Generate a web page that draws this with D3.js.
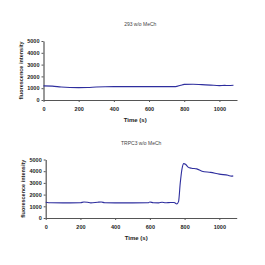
<!DOCTYPE html>
<html>
<head>
<meta charset="utf-8">
<script src="https://cdn.jsdelivr.net/npm/d3@7"></script>
<style>
  body { margin: 0; background: #fff; }
  svg text { font-family: "Liberation Sans", Arial, sans-serif; }
</style>
</head>
<body>
<svg id="chart" width="265" height="265"></svg>
<script>
// data
var timeTicks = [0, 200, 400, 600, 800, 1000];
var intensityTicks = [0, 1000, 2000, 3000, 4000, 5000];

var topTitle = "293 w/o MeCh";
var topTime = [0, 50, 100, 150, 200, 250, 300, 350, 400, 500, 600, 700, 750, 780, 800, 850, 900, 950, 1000, 1030, 1050, 1080];
var topValue = [1200, 1180, 1100, 1060, 1050, 1060, 1100, 1120, 1130, 1130, 1130, 1130, 1130, 1250, 1320, 1340, 1300, 1260, 1220, 1240, 1230, 1250];

var botTitle = "TRPC3 w/o MeCh";
var botTime = [0, 30, 100, 200, 220, 240, 260, 300, 320, 340, 400, 500, 590, 600, 620, 650, 670, 690, 720, 740, 755, 765, 775, 785, 795, 805, 820, 840, 870, 900, 950, 1000, 1050, 1070, 1080];
var botValue = [1350, 1300, 1290, 1300, 1370, 1350, 1290, 1350, 1370, 1300, 1290, 1290, 1300, 1370, 1300, 1290, 1350, 1300, 1330, 1320, 1200, 1400, 3000, 4200, 4650, 4600, 4350, 4250, 4200, 4000, 3900, 3750, 3650, 3580, 3600];

var svg = d3.select("#chart");

function panel(title, times, values, box) {
    var x = d3.scaleLinear().domain([0, 1100]).range([box.left, box.right]);
    var y = d3.scaleLinear().domain([0, 5000]).range([box.bottom, box.top]);
    var g = svg.append("g");

    g.append("text")
        .attr("x", (box.left + box.right) / 2)
        .attr("y", box.top - 15)
        .attr("text-anchor", "middle")
        .attr("font-size", "5px")
        .attr("fill", "#444")
        .text(title);

    var ya = g.append("g")
        .attr("transform", "translate(" + box.left + ",0)")
        .call(d3.axisLeft(y).tickValues(intensityTicks).tickFormat(d3.format("d"))
            .tickSize(2).tickPadding(2).tickSizeOuter(0));
    var xa = g.append("g")
        .attr("transform", "translate(0," + box.bottom + ")")
        .call(d3.axisBottom(x).tickValues(timeTicks).tickFormat(d3.format("d"))
            .tickSize(2).tickPadding(5).tickSizeOuter(0));

    [ya, xa].forEach(function(a) {
        a.select(".domain").attr("stroke", "#555").attr("stroke-width", 1.2);
        a.selectAll(".tick line").attr("stroke", "#555");
        a.selectAll(".tick text")
            .attr("font-size", "5.5px")
            .attr("font-weight", "bold")
            .attr("fill", "#222")
            .style("font-family", "'Liberation Sans', Arial, sans-serif");
    });

    g.append("text")
        .attr("x", (box.left + box.right) / 2 - 5)
        .attr("y", box.bottom + 22)
        .attr("text-anchor", "middle")
        .attr("font-size", "6px")
        .attr("font-weight", "bold")
        .attr("fill", "#222")
        .text("Time (s)");

    g.append("text")
        .attr("transform", "translate(" + (box.left - 21) + "," + ((box.top + box.bottom) / 2) + ") rotate(-90)")
        .attr("text-anchor", "middle")
        .attr("font-size", "5.5px")
        .attr("font-weight", "bold")
        .attr("fill", "#222")
        .text("fluorescence intensity");

    var line = d3.line()
        .x(function(d, i) { return x(times[i]); })
        .y(function(d) { return y(d); })
        .curve(d3.curveMonotoneX);

    g.append("path")
        .attr("d", line(values))
        .attr("fill", "none")
        .attr("stroke", "#2e2e9e")
        .attr("stroke-width", 1.1);
}

panel(topTitle, topTime, topValue, {left: 43.5, right: 237, top: 41, bottom: 100});
panel(botTitle, botTime, botValue, {left: 45.7, right: 236.7, top: 159.5, bottom: 218});
</script>
</body>
</html>
